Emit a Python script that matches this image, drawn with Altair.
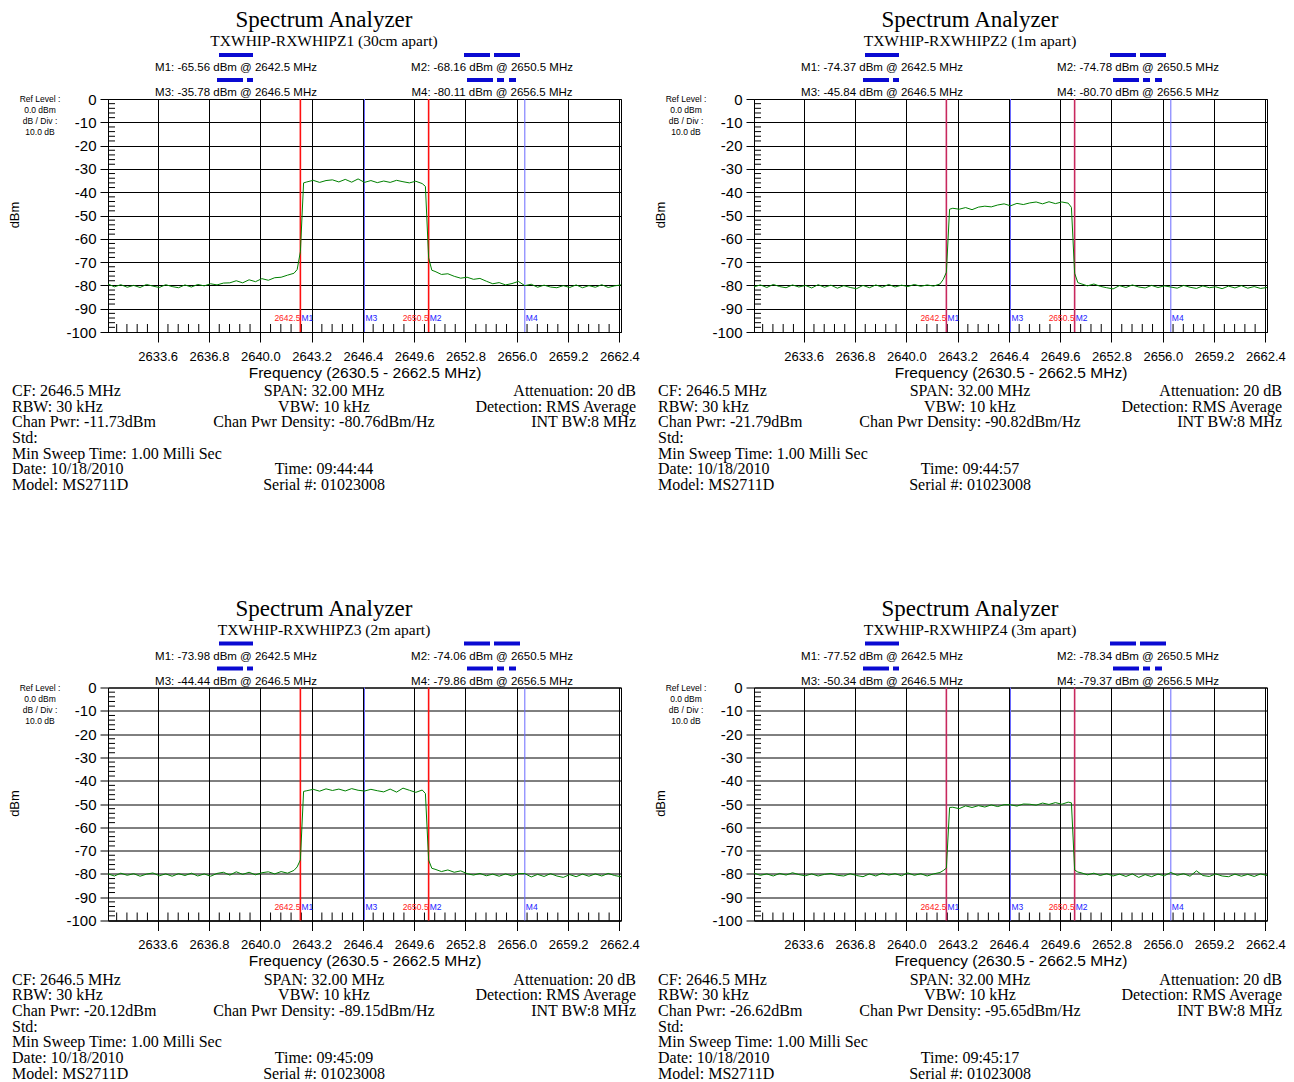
import altair as alt
import pandas as pd

# ---------------- data ----------------
FREQ = [2630.5, 2630.9, 2631.3, 2631.7, 2632.1, 2632.5, 2632.9, 2633.3, 2633.7, 2634.1,
        2634.5, 2634.9, 2635.3, 2635.7, 2636.1, 2636.5, 2636.9, 2637.3, 2637.7, 2638.1,
        2638.5, 2638.9, 2639.3, 2639.7, 2640.1, 2640.5, 2640.9, 2641.3, 2641.7, 2642.1,
        2642.5, 2642.9, 2643.3, 2643.7, 2644.1, 2644.5, 2644.9, 2645.3, 2645.7, 2646.1,
        2646.5, 2646.9, 2647.3, 2647.7, 2648.1, 2648.5, 2648.9, 2649.3, 2649.7, 2650.1,
        2650.5, 2650.9, 2651.3, 2651.7, 2652.1, 2652.5, 2652.9, 2653.3, 2653.7, 2654.1,
        2654.5, 2654.9, 2655.3, 2655.7, 2656.1, 2656.5, 2656.9, 2657.3, 2657.7, 2658.1,
        2658.5, 2658.9, 2659.3, 2659.7, 2660.1, 2660.5, 2660.9, 2661.3, 2661.7, 2662.1,
        2662.5]
EDGE_FREQ = [2642.3, 2642.7, 2650.3, 2650.7]

TRACE_1 = [-79.4, -80.6, -79.7, -80.8, -80.0, -80.9, -79.6, -80.3, -80.9, -79.7,
           -80.5, -81.0, -79.8, -80.7, -79.6, -80.2, -79.3, -79.8, -79.0, -78.9,
           -78.0, -78.9, -77.6, -78.4, -77.1, -77.8, -76.7, -76.5, -75.6, -74.8,
           -65.56, -35.6, -34.9, -35.8, -35.0, -34.7, -35.6, -34.5, -35.7, -34.3,
           -35.78, -35.0, -35.9, -35.2, -35.8, -34.9, -35.5, -36.0, -35.3, -36.3,
           -68.16, -74.0, -75.3, -75.0, -76.1, -76.9, -76.5, -77.4, -77.0, -78.2,
           -79.3, -78.8, -79.8, -79.2, -78.3, -80.11, -79.5, -80.8, -79.9, -80.7,
           -81.0, -80.1, -80.9, -79.8, -81.0, -80.1, -80.8, -79.7, -80.9, -80.2,
           -79.8]
EDGE_1 = [-73.2, -36.0, -37.5, -73.5]

TRACE_2 = [-80.6, -79.8, -80.9, -79.6, -80.5, -81.0, -79.8, -80.7, -80.0, -81.1,
           -79.7, -80.8, -79.9, -81.2, -80.1, -80.9, -81.4, -80.0, -81.0, -79.8,
           -80.8, -79.6, -80.7, -79.9, -80.5, -79.6, -80.4, -79.8, -80.3, -79.4,
           -74.37, -46.9, -47.3, -46.6, -47.5, -46.4, -46.0, -46.3, -45.5, -45.0,
           -45.84, -44.8, -45.3, -44.6, -44.2, -45.0, -44.1, -44.9, -44.2, -44.7,
           -74.78, -79.3, -80.2, -79.4, -80.4, -81.0, -81.5, -80.1, -80.9, -79.8,
           -80.7, -81.1, -80.0, -80.9, -80.2, -80.70, -81.2, -80.0, -80.8, -81.3,
           -80.2, -81.0, -80.6, -81.4, -80.3, -81.1, -80.1, -81.2, -80.5, -81.3,
           -80.9]
EDGE_2 = [-77.5, -47.3, -46.5, -78.8]

TRACE_3 = [-80.0, -80.9, -79.7, -80.6, -79.9, -81.0, -80.1, -79.6, -80.8, -80.0,
           -81.0, -79.9, -80.7, -79.7, -80.9, -80.0, -81.0, -79.8, -79.3, -80.5,
           -79.1, -80.2, -79.3, -80.4, -79.5, -79.1, -80.0, -79.0, -79.7, -78.5,
           -73.98, -44.3, -43.7, -44.5, -43.5, -44.2, -43.6, -44.4, -43.4, -44.1,
           -44.44, -43.7, -44.3, -44.8, -43.6, -44.9, -43.2, -44.1, -45.0, -44.0,
           -74.06, -78.0, -79.0, -78.3, -79.3, -78.7, -79.9, -80.5, -79.8, -80.8,
           -80.1, -81.0, -80.0, -80.9, -79.9, -79.86, -81.3, -80.2, -81.1, -79.9,
           -80.9, -81.5, -80.3, -81.2, -80.1, -81.0, -80.0, -80.9, -79.8, -80.7,
           -81.2]
EDGE_3 = [-77.0, -44.6, -45.5, -77.6]

TRACE_4 = [-79.7, -80.6, -80.0, -80.9, -79.8, -80.5, -79.5, -80.3, -80.8, -80.0,
           -80.9, -80.2, -79.8, -80.6, -80.9, -79.9, -80.7, -81.2, -80.0, -80.9,
           -79.7, -80.5, -79.9, -80.8, -79.6, -80.6, -79.9, -80.9, -80.0, -79.4,
           -77.52, -51.4, -52.0, -50.8, -51.5, -50.7, -51.3, -50.4, -51.1, -50.3,
           -50.34, -50.9, -50.0, -50.1, -50.5, -49.6, -50.2, -49.4, -50.1, -49.2,
           -78.34, -79.5, -80.4, -79.7, -80.7, -79.9, -80.9, -80.1, -81.1, -80.0,
           -81.5, -80.3, -81.2, -80.1, -80.8, -79.37, -80.6, -79.9, -81.0, -78.7,
           -80.7, -81.1, -80.0, -80.9, -81.2, -80.1, -81.0, -80.2, -81.1, -80.0,
           -80.7]
EDGE_4 = [-78.6, -51.5, -49.5, -79.2]

TRACES = [TRACE_1, TRACE_2, TRACE_3, TRACE_4]
EDGES = [EDGE_1, EDGE_2, EDGE_3, EDGE_4]

MARKER_FREQ = [2642.5, 2650.5, 2646.5, 2656.5]  # M1, M2, M3, M4
M1_DBM = [-65.56, -74.37, -73.98, -77.52]
M2_DBM = [-68.16, -74.78, -74.06, -78.34]
M3_DBM = [-35.78, -45.84, -44.44, -50.34]
M4_DBM = [-80.11, -80.70, -79.86, -79.37]

SUBTITLES = ["TXWHIP-RXWHIPZ1 (30cm apart)", "TXWHIP-RXWHIPZ2 (1m apart)",
             "TXWHIP-RXWHIPZ3 (2m apart)", "TXWHIP-RXWHIPZ4 (3m apart)"]
CHAN_PWR = ["-11.73dBm", "-21.79dBm", "-20.12dBm", "-26.62dBm"]
CHAN_DENS = ["-80.76dBm/Hz", "-90.82dBm/Hz", "-89.15dBm/Hz", "-95.65dBm/Hz"]
TIMES = ["09:44:44", "09:44:57", "09:45:09", "09:45:17"]

X_TICKS = [2633.6, 2636.8, 2640.0, 2643.2, 2646.4, 2649.6, 2652.8, 2656.0, 2659.2, 2662.4]
Y_TICKS = [0, -10, -20, -30, -40, -50, -60, -70, -80, -90, -100]
X_MINOR = [round(2633.6 + 0.64 * j, 2) for j in range(-4, 45) if j % 5 != 0]
Y_MINOR = [v for v in range(-2, -100, -2) if v % 10 != 0]

# ---------------- style ----------------
W, H = 513, 233
SERIF = "Liberation Serif"
SANS = "Liberation Sans"
ONE = pd.DataFrame({"a": [0]})
RED_LINE = ["#ff1010", "#c8285e", "#ff1010", "#c8285e"]
ROW = 15.67
FOOT = 297

xs = alt.Scale(domain=[2630.5, 2662.5], nice=False, zero=False)
ys = alt.Scale(domain=[-100, 0], nice=False, zero=False)
xaxis = alt.Axis(values=X_TICKS, format=".1f", grid=True, tickSize=10,
                 labelFontSize=13, labelPadding=8, labelFont=SANS,
                 title="Frequency (2630.5 - 2662.5 MHz)", titleFont=SANS,
                 titleFontSize=15.5, titleFontWeight="normal", titlePadding=2)
yaxis = alt.Axis(values=Y_TICKS, grid=True, tickSize=8, labelFontSize=15,
                 labelPadding=4, labelFont=SANS, title=None,
                 labelExpr="datum.value < 0 ? '-' + abs(datum.value) : '' + datum.value")
X = alt.X("f:Q", scale=xs, axis=xaxis)
Y = alt.Y("p:Q", scale=ys, axis=yaxis)


def txt(s, x, y, size, font=SANS, align="center", baseline="middle",
        color="black", angle=None, line_height=None):
    kw = dict(font=font, fontSize=size, align=align, baseline=baseline, color=color)
    if angle is not None:
        kw["angle"] = angle
    if line_height is not None:
        kw["lineHeight"] = line_height
    return alt.Chart(ONE).mark_text(**kw).encode(
        x=alt.value(x), y=alt.value(y), text=alt.value(s))


def bar(x1, x2, y, dash=None):
    kw = dict(color="#0a0ad2", strokeWidth=4)
    if dash:
        kw["strokeDash"] = dash
    return alt.Chart(ONE).mark_rule(**kw).encode(
        x=alt.value(x1), x2=alt.value(x2), y=alt.value(y))


def panel(i):
    df = pd.DataFrame({"f": FREQ + EDGE_FREQ, "p": TRACES[i] + EDGES[i]}).sort_values("f")
    layers = []
    # minor ticks
    layers.append(alt.Chart(pd.DataFrame({"p": Y_MINOR})).mark_rule(color="black", strokeWidth=1)
                  .encode(y=Y, x=alt.value(0), x2=alt.value(7)))
    layers.append(alt.Chart(pd.DataFrame({"f": X_MINOR})).mark_rule(color="black", strokeWidth=1)
                  .encode(x=X, y=alt.value(H), y2=alt.value(H - 8)))
    # marker lines
    layers.append(alt.Chart(pd.DataFrame({"f": MARKER_FREQ[2:]}))
                  .mark_rule(color="#6a6aff", strokeWidth=1).encode(x=X))
    layers.append(alt.Chart(pd.DataFrame({"f": MARKER_FREQ[:2]}))
                  .mark_rule(color=RED_LINE[i], strokeWidth=1.6).encode(x=X))
    # trace
    layers.append(alt.Chart(df).mark_line(color="#008000", strokeWidth=1).encode(x=X, y=Y))
    # marker labels in the plot
    mk = pd.DataFrame({"f": MARKER_FREQ, "n": ["M1", "M2", "M3", "M4"]})
    layers.append(alt.Chart(mk).mark_text(font=SANS, fontSize=8.5, align="left",
                                          baseline="middle", color="#2020ff", dx=1)
                  .encode(x=X, y=alt.value(219), text="n:N"))
    layers.append(alt.Chart(mk.iloc[:2]).mark_text(font=SANS, fontSize=8.5, align="right",
                                                   baseline="middle", color="#ff2020")
                  .encode(x=X, y=alt.value(219), text=alt.Text("f:Q", format=".1f")))
    # header
    layers.append(txt("Spectrum Analyzer", 216, -72, 23, font=SERIF, baseline="alphabetic"))
    layers.append(txt(SUBTITLES[i], 216, -53, 15.5, font=SERIF, baseline="alphabetic"))
    layers.append(txt(f"M1: {M1_DBM[i]:.2f} dBm @ {MARKER_FREQ[0]} MHz", 128, -31, 11.5))
    layers.append(txt(f"M3: {M3_DBM[i]:.2f} dBm @ {MARKER_FREQ[2]} MHz", 128, -6, 11.5))
    layers.append(txt(f"M2: {M2_DBM[i]:.2f} dBm @ {MARKER_FREQ[1]} MHz", 384, -31, 11.5))
    layers.append(txt(f"M4: {M4_DBM[i]:.2f} dBm @ {MARKER_FREQ[3]} MHz", 384, -6, 11.5))
    layers.append(bar(111, 145, -44))
    layers.append(bar(109, 145, -19, [26, 4, 6, 4]))
    layers.append(bar(356, 412, -44, [26, 4]))
    layers.append(bar(359, 408, -19, [26, 4, 7, 5, 7, 10]))
    # left side
    layers.append(txt(["Ref Level :", "0.0   dBm", "dB / Div :", "10.0 dB"], -68, 3, 8.5,
                      baseline="alphabetic", line_height=11))
    layers.append(txt("dBm", -93, 116, 13, angle=270))
    # footer
    left = ["CF: 2646.5 MHz", "RBW: 30 kHz", f"Chan Pwr: {CHAN_PWR[i]}", "Std:",
            "Min Sweep Time: 1.00 Milli Sec", "Date: 10/18/2010", "Model: MS2711D"]
    mid_top = ["SPAN: 32.00 MHz", "VBW: 10 kHz", f"Chan Pwr Density: {CHAN_DENS[i]}"]
    mid_bot = [f"Time: {TIMES[i]}", "Serial #: 01023008"]
    right = ["Attenuation: 20 dB", "Detection: RMS Average", "INT BW:8 MHz"]
    layers.append(txt(left, -96, FOOT, 16, font=SERIF, align="left",
                      baseline="alphabetic", line_height=ROW))
    layers.append(txt(mid_top, 216, FOOT, 16, font=SERIF, align="center",
                      baseline="alphabetic", line_height=ROW))
    layers.append(txt(mid_bot, 216, FOOT + 5 * ROW, 16, font=SERIF, align="center",
                      baseline="alphabetic", line_height=ROW))
    layers.append(txt(right, 528, FOOT, 16, font=SERIF, align="right",
                      baseline="alphabetic", line_height=ROW))
    return alt.layer(*layers).properties(width=W, height=H)


chart = alt.concat(*[panel(i) for i in range(4)], columns=2,
                   spacing={"row": 355.5, "column": 133}, bounds="flush").configure_view(
    stroke="black", strokeWidth=1
).configure_axis(
    gridColor="black", gridWidth=1, gridOpacity=1, domainColor="black",
    tickColor="black", labelColor="black", titleColor="black"
).properties(padding={"left": 0, "top": 0, "right": 0, "bottom": 0})

chart.save("out.html", embed_options={"renderer": "svg", "actions": False})
